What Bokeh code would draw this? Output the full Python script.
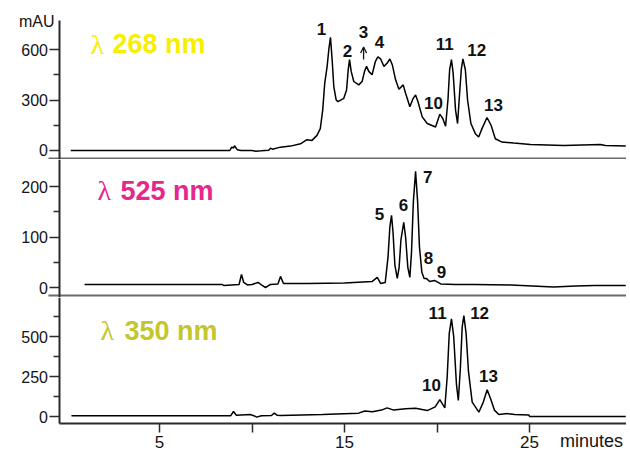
from bokeh.plotting import figure
from bokeh.layouts import column
from bokeh.models import (FixedTicker, Label, Arrow, OpenHead, Range1d, ColumnDataSource,
                          LinearAxis)
from bokeh.core.properties import value
from bokeh.embed import file_html
from bokeh.resources import INLINE

# ---------------- data (minutes, mAU) ----------------
t268 = [0.2, 8.8, 8.9, 9.0, 9.05, 9.2, 9.4, 10.0, 10.2, 10.5, 10.9, 11.0, 11.1, 11.54, 12.08, 12.62,
        12.97, 13.24, 13.51, 13.69, 13.82, 13.93, 14.06, 14.15, 14.24, 14.33, 14.42, 14.55, 14.64,
        14.96, 15.11, 15.2, 15.27, 15.36, 15.5, 15.77, 15.95, 16.08, 16.19, 16.31, 16.49, 16.67, 16.8,
        16.95, 17.13, 17.31, 17.45, 17.58, 17.76, 17.94, 18.17, 18.3, 18.53, 18.71, 18.84, 18.97, 19.2,
        19.47, 19.92, 20.15, 20.31, 20.46, 20.59, 20.68, 20.78, 20.87, 21.0, 21.11, 21.22, 21.31, 21.4,
        21.53, 21.65, 21.83, 22.07, 22.25, 22.43, 22.7, 22.92, 23.15, 23.51, 24.14, 25.05, 26.85, 28.83,
        29.1, 30.2]
a268 = [0, 0, 20, 15, 28, 5, 0, 0, -4, -2, 2, 14, 8, 20, 26, 40, 64, 60, 90, 130, 240, 400, 500, 600,
        672, 540, 380, 300, 290, 310, 360, 480, 540, 470, 410, 390, 410, 470, 500, 470, 450, 530, 556,
        544, 500, 520, 544, 510, 420, 364, 390, 340, 260, 310, 330, 290, 200, 160, 140, 216, 190, 144,
        300, 480, 540, 460, 240, 160, 340, 480, 544, 480, 300, 160, 100, 80, 130, 196, 150, 70, 50, 44,
        36, 30, 36, 30, 26]

t525 = [0.95, 8.4, 8.47, 9.3, 9.43, 9.55, 9.75, 10.0, 10.33, 10.55, 10.73, 11.0, 11.4, 11.54, 11.7,
        13.0, 15.0, 16.5, 16.77, 16.95, 17.2, 17.35, 17.45, 17.54, 17.62, 17.72, 17.85, 17.95, 18.05,
        18.2, 18.3, 18.42, 18.53, 18.62, 18.72, 18.84, 18.95, 19.05, 19.18, 19.3, 19.42, 19.6, 19.86,
        20.2, 21.0, 22.0, 24.0, 26.3, 27.5, 28.5, 30.2]
a525 = [6, 6, 4, 6, 26, 10, 5, 6, 10, 4, 0, 6, 7, 22, 8, 8, 9, 12, 20, 8, 10, 60, 120, 143, 110, 45,
        18, 40, 95, 129, 100, 40, 20, 70, 170, 230, 170, 80, 30, 18, 18, 12, 14, 7, 6, 6, 5, 1, 3, 4, 4]

t350 = [0.24, 8.85, 9.0, 9.15, 9.9, 10.1, 10.25, 10.5, 11.05, 11.2, 11.35, 11.57, 13.8, 15.76, 16.1,
        16.5, 17.0, 17.3, 17.66, 18.3, 18.84, 19.47, 19.9, 20.15, 20.28, 20.42, 20.55, 20.66, 20.78,
        20.9, 21.05, 21.15, 21.26, 21.36, 21.45, 21.57, 21.7, 21.9, 22.26, 22.5, 22.71, 22.9, 23.1,
        23.34, 23.8, 24.2, 24.96, 25.0, 30.2]
a350 = [5, 5, 31, 8, 12, 5, -4, 5, 6, 21, 8, 6, 12, 21, 34, 30, 40, 54, 40, 48, 52, 37, 60, 106, 80,
        54, 250, 520, 610, 500, 200, 100, 300, 560, 631, 520, 280, 90, 27, 90, 167, 110, 40, 12, 18,
        12, 10, 0, 0]

# peak labels
lab268_text = ["1", "2", "3", "4", "10", "11", "12", "13"]
lab268_x = [13.76, 15.16, 16.03, 16.89, 19.81, 20.41, 22.14, 23.05]
lab268_y = [720, 594, 702, 642, 282, 630, 600, 270]

lab525_text = ["5", "6", "7", "8", "9"]
lab525_x = [16.89, 18.19, 19.49, 19.54, 20.24]
lab525_y = [146, 164, 218, 59, 30]

lab350_text = ["10", "11", "12", "13"]
lab350_x = [19.7, 20.03, 22.3, 22.78]
lab350_y = [194, 650, 644, 256]

x_ticks = [5, 10, 15, 20, 25]
x_tick_labels = {5: "5", 10: "", 15: "15", 20: "", 25: "25"}

FONT = "Liberation Sans"
AXIS_COLOR = "#2b2b2b"
SEP_COLOR = "#6a6a6a"
TXT = "#141414"
X0, X1 = -3.595, 30.24
xr = Range1d(X0, X1)
AXIS_X = -0.38
W = 626


def make_fig(height, yr, majors, minors, ybounds):
    p = figure(width=W, height=height, x_range=xr, y_range=Range1d(*yr),
               output_backend="svg", toolbar_location=None,
               x_axis_location=None, y_axis_location=None,
               min_border_left=0, min_border_right=0,
               min_border_top=0, min_border_bottom=0)
    p.outline_line_color = None
    p.grid.visible = False
    p.background_fill_color = "white"
    p.border_fill_color = "white"
    ya = LinearAxis(fixed_location=AXIS_X, bounds=ybounds,
                    ticker=FixedTicker(ticks=majors, minor_ticks=minors))
    ya.axis_line_color = AXIS_COLOR
    ya.axis_line_width = 2
    ya.major_tick_line_color = AXIS_COLOR
    ya.major_tick_line_width = 1.5
    ya.minor_tick_line_color = AXIS_COLOR
    ya.minor_tick_line_width = 1.5
    ya.major_tick_out = 10
    ya.major_tick_in = 0
    ya.minor_tick_out = 6
    ya.minor_tick_in = 0
    ya.major_label_standoff = 2
    ya.major_label_text_font = FONT
    ya.major_label_text_font_size = "16px"
    ya.major_label_text_color = TXT
    p.add_layout(ya, "left")
    return p


def separator(p, loc):
    ax = LinearAxis(fixed_location=loc, bounds=(-1.0, X1), ticker=FixedTicker(ticks=[]))
    ax.axis_line_color = SEP_COLOR
    ax.axis_line_width = 2
    ax.major_tick_out = 0
    ax.major_tick_in = 0
    ax.minor_tick_out = 0
    ax.minor_tick_in = 0
    ax.major_label_text_font_size = "0px"
    p.add_layout(ax, "below")


def peak_labels(p, xs, ys, texts):
    src = ColumnDataSource(dict(x=xs, y=ys, t=texts))
    p.text(x="x", y="y", text="t", source=src, text_font=value(FONT),
           text_font_style="bold", text_font_size="17px", text_align="center",
           text_baseline="middle", text_color="#111111")


def wl_label(p, x_l, x_n, y, num, color):
    p.add_layout(Label(x=x_l, y=y, text="λ", text_font="Liberation Serif",
                       text_font_size="28px", text_color=color, text_baseline="middle"))
    p.add_layout(Label(x=x_n, y=y, text=num, text_font=FONT, text_font_style="bold",
                       text_font_size="27px", text_color=color, text_baseline="middle"))


# ---------- panel 1: 268 nm ----------
p1 = make_fig(159, (-53.5, 891.3), [0, 300, 600], [150, 450], (-53.5, 772))
p1.line(t268, a268, line_color="black", line_width=1.5)
peak_labels(p1, lab268_x, lab268_y, lab268_text)
p1.add_layout(Arrow(end=OpenHead(size=6, line_width=1.3, line_color="#111111"),
                    x_start=16.03, y_start=540, x_end=16.03, y_end=615,
                    line_width=1.3, line_color="#111111"))
separator(p1, -44.6)
p1.add_layout(Label(x=-0.68, y=766, text="mAU", text_font=FONT, text_font_size="16px",
                    text_align="right", text_baseline="middle", text_color=TXT))
wl_label(p1, 1.27, 2.46, 630, "268 nm", "#F7EE00")

# ---------- panel 2: 525 nm ----------
p2 = make_fig(138, (-19.8, 253.5), [0, 100, 200], [50, 150], (-19.8, 253.5))
p2.line(t525, a525, line_color="black", line_width=1.5)
peak_labels(p2, lab525_x, lab525_y, lab525_text)
separator(p2, -15.8)
wl_label(p2, 1.65, 2.89, 192, "525 nm", "#E5288B")

# ---------- panel 3: 350 nm ----------
p3 = make_fig(153, (-212.5, 743.75), [0, 250, 500], [125, 375, 625], (-43.75, 743.75))
p3.line(t350, a350, line_color="black", line_width=1.5)
peak_labels(p3, lab350_x, lab350_y, lab350_text)
wl_label(p3, 1.81, 3.11, 537, "350 nm", "#C4C62E")
xa = LinearAxis(fixed_location=-43.75, bounds=(AXIS_X, X1),
                ticker=FixedTicker(ticks=x_ticks, minor_ticks=[]))
xa.major_label_overrides = x_tick_labels
xa.axis_line_color = AXIS_COLOR
xa.axis_line_width = 2
xa.major_tick_line_color = AXIS_COLOR
xa.major_tick_line_width = 1.5
xa.major_tick_out = 9
xa.major_tick_in = 0
xa.minor_tick_out = 0
xa.minor_tick_in = 0
xa.major_label_standoff = 3
xa.major_label_text_font = FONT
xa.major_label_text_font_size = "17px"
xa.major_label_text_color = TXT
p3.add_layout(xa, "below")
p3.add_layout(Label(x=28.35, y=-150, text="minutes", text_font=FONT, text_font_size="18px",
                    text_align="center", text_baseline="middle", text_color=TXT))

layout = column(p1, p2, p3, spacing=0)
open("out.html", "w").write(file_html(layout, INLINE))
